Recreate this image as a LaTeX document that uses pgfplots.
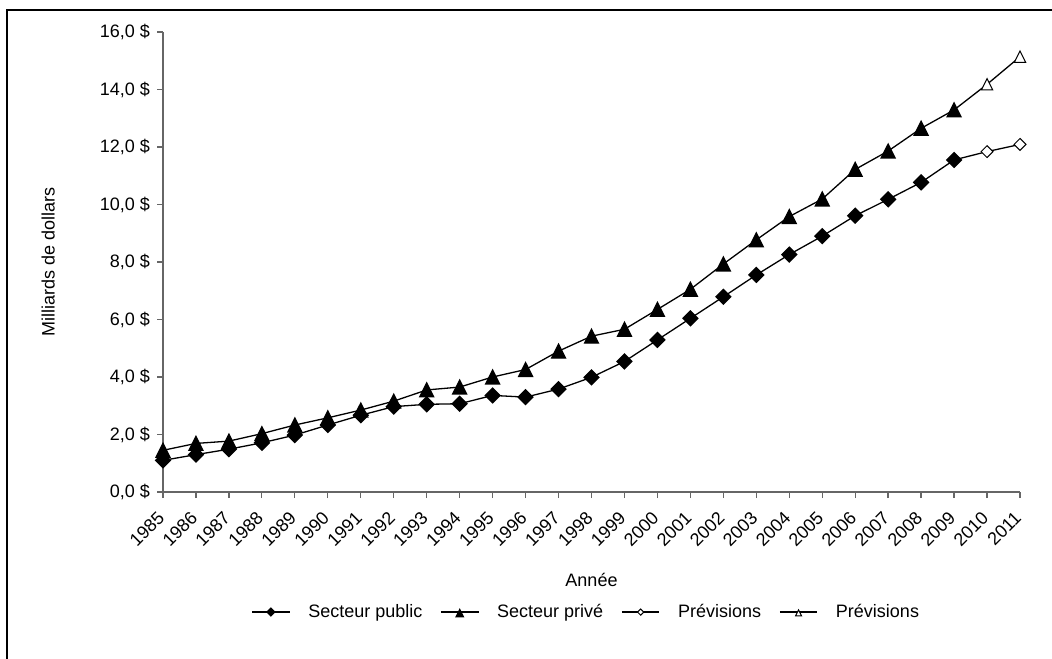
\documentclass[border=0pt]{standalone}
\usepackage{fontspec}
\setmainfont{Liberation Sans}
\usepackage{pgfplots}
\pgfplotsset{compat=1.18}
\newcommand\fs{\fontsize{9}{11}\selectfont}

\begin{document}
\begin{tikzpicture}
\useasboundingbox (-81.5pt,-83pt) rectangle (444.5pt,246pt);
\draw[line width=1pt] (-78pt,-90pt) -- (-78pt,241pt) -- (450pt,241pt);
\begin{axis}[scale only axis,width=428.5pt,height=230pt,
  xmin=1985,xmax=2011,ymin=0,ymax=16,
  axis x line*=bottom,axis y line*=left,
  axis line style={black!60,line width=0.6pt},
  tick align=outside,major tick length=3pt,tick style={black!60,line width=0.6pt},
  xtick={1985,...,2011},ytick={0,2,...,16},
  /pgf/number format/assume math mode=true,
  /pgf/number format/1000 sep={},
  xticklabel style={xshift=1.5pt,yshift=-6pt,rotate=45,anchor=east,font=\fs},
  yticklabel={\pgfmathprintnumber[fixed,fixed zerofill,precision=1,use comma]{\tick}~\$},
  yticklabel style={font=\fs},
  xlabel={Année},ylabel={Milliards de dollars},
  label style={font=\fs},
  x label style={at={(axis description cs:0.5,-0.191)},anchor=center},
  y label style={at={(axis description cs:-0.134,0.5)},anchor=center},
  legend columns=4,
  legend style={draw=none,font=\fs,at={(axis description cs:0.495,-0.261)},anchor=center,
    /tikz/every even column/.append style={column sep=7pt}},
  legend image code/.code={\draw[#1,mark indices={2},every mark/.append style={scale=0.52}]
    plot coordinates {(0cm,0cm) (0.33cm,0cm) (0.66cm,0cm)};
    \path (0.66cm+7pt,0pt);},
  clip=false]

\addplot[black,line width=0.65pt,mark=square*,mark size=2.6pt,mark options={rotate=45,solid}] coordinates {
(1985,1.10) (1986,1.30) (1987,1.49) (1988,1.71) (1989,1.98) (1990,2.33) (1991,2.67) (1992,2.97)
(1993,3.05) (1994,3.07) (1995,3.36) (1996,3.30) (1997,3.58) (1998,3.99) (1999,4.54) (2000,5.29)
(2001,6.04) (2002,6.79) (2003,7.55) (2004,8.26) (2005,8.90) (2006,9.61) (2007,10.18) (2008,10.77) (2009,11.55)};
\addlegendentry{Secteur public}

\addplot[black,line width=0.65pt,mark=triangle*,mark size=4pt,mark options={yscale=1.15,yshift=-1pt,solid}] coordinates {
(1985,1.45) (1986,1.69) (1987,1.77) (1988,2.03) (1989,2.33) (1990,2.58) (1991,2.85) (1992,3.16)
(1993,3.55) (1994,3.65) (1995,4.00) (1996,4.26) (1997,4.90) (1998,5.42) (1999,5.66) (2000,6.35)
(2001,7.05) (2002,7.93) (2003,8.77) (2004,9.58) (2005,10.19) (2006,11.22) (2007,11.86) (2008,12.65) (2009,13.29)};
\addlegendentry{Secteur privé}

\addplot[black,line width=0.65pt,mark=square*,mark size=2.1pt,mark indices={2,3},
  mark options={rotate=45,fill=white,line width=0.5pt}] coordinates {
(2009,11.55) (2010,11.84) (2011,12.09)};
\addlegendentry{Prévisions}

\addplot[black,line width=0.65pt,mark=triangle*,mark size=3.3pt,mark indices={2,3},
  mark options={yscale=1.15,yshift=-0.8pt,fill=white,line width=0.5pt}] coordinates {
(2009,13.29) (2010,14.18) (2011,15.14)};
\addlegendentry{Prévisions}
\end{axis}
\end{tikzpicture}
\end{document}
